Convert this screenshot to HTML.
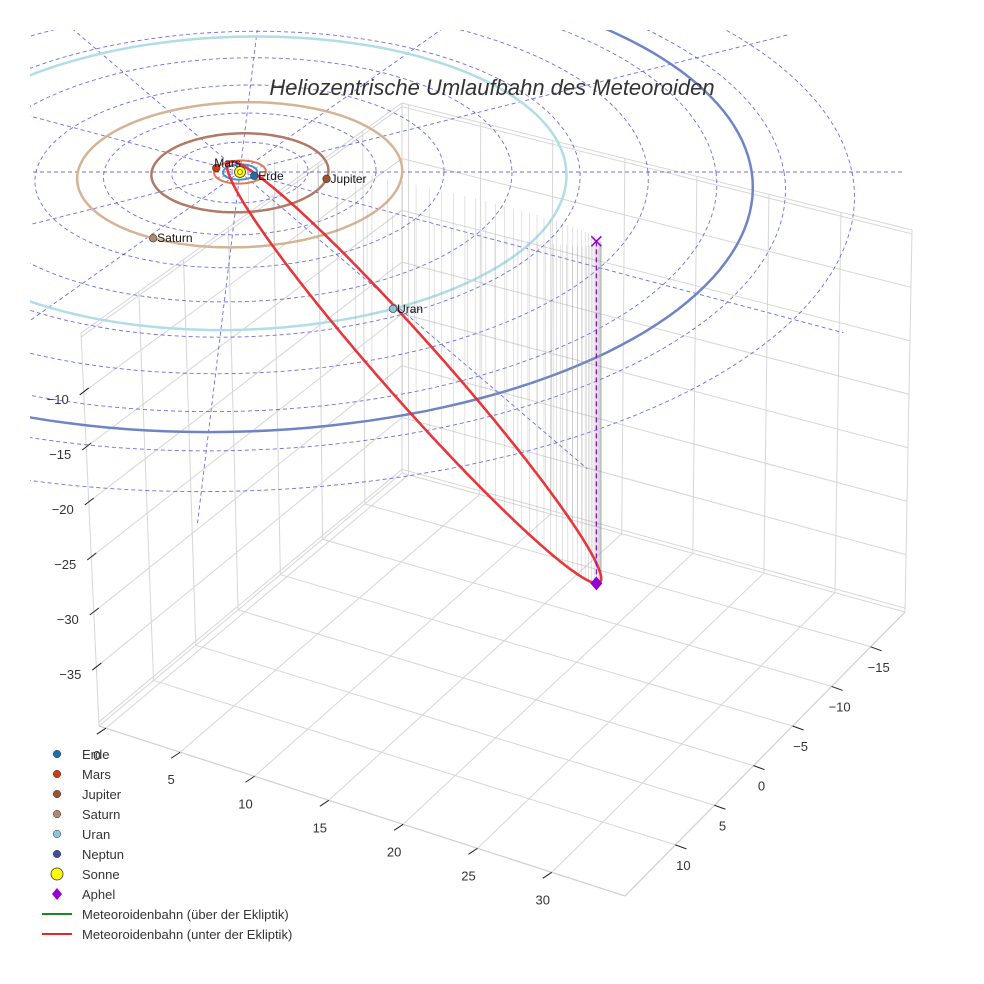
<!DOCTYPE html>
<html><head><meta charset="utf-8">
<style>
html,body{margin:0;padding:0;background:#fff;}
svg{display:block;font-family:"Liberation Sans",sans-serif;}
</style></head>
<body>
<svg id="chart" width="984" height="984" viewBox="0 0 984 984" xmlns="http://www.w3.org/2000/svg">
<defs><clipPath id="clip"><rect x="30" y="30" width="954" height="954"/></clipPath></defs>
<g id="panes"></g>
<g id="ecl" clip-path="url(#clip)"></g>
<text x="492" y="95" text-anchor="middle" font-size="22" font-style="italic" fill="#333">Heliozentrische Umlaufbahn des Meteoroiden</text>
<g id="legend"></g>
</svg>
<script>
// ---- data ----
const planetNames = ['Erde','Mars','Jupiter','Saturn','Uran','Neptun'];
const orbitRadii = [1.0, 1.52, 5.2, 9.54, 19.2, 30.1];
const planetAngles = [30, 200, 10, 118, 61, 250];
const orbitColors = ['#4c90d0','#e07a5a','#b07a66','#d4b494','#b0dde6','#6f84c4'];
const markerColors = ['#1a6fb0','#d03a10','#a0522d','#b08a6a','#8cc4dc','#3a4fa0'];
const gridRings = [4, 8, 12, 16, 20, 24, 28, 32, 36];
const spokeAngles = [0, 30, 60, 90, 120, 150, 180, 210, 240, 270, 300, 330];
const spokeLength = 39;
const aphelionPos = [20.7, 8.8, -30];
const perihelionDist = 1.0;
const minorVec = [2.35, 3.3, 2.5];
const xTicks = [0, 5, 10, 15, 20, 25, 30];
const yTicks = [-15, -10, -5, 0, 5, 10];
const zTicks = [-35, -30, -25, -20, -15, -10];
const legendLabels = ['Erde','Mars','Jupiter','Saturn','Uran','Neptun','Sonne','Aphel',
  'Meteoroidenbahn (über der Ekliptik)','Meteoroidenbahn (unter der Ekliptik)'];

const NS = 'http://www.w3.org/2000/svg';
function mk(parent, tag, attrs, text){
  const e = document.createElementNS(NS, tag);
  for (const k in attrs) e.setAttribute(k, attrs[k]);
  if (text !== undefined) e.textContent = text;
  parent.appendChild(e); return e;
}
// ---- projection of ecliptic coordinates (AU) with mild perspective ----
const VX = 470;
function proj(x, y, z){
  const g = 1 / (1 - 0.004 * y);
  return [VX + (240 - VX + 17 * x) * g, 172 + 7.6 * y * g - 11 * z * g];
}
// ---- box axes ----
const A=[99,726], B=[625,896], C=[905,612], D=[402,473], A2=[81,333], D2=[402,103], C2=[912,230];
function lerp(p,q,t){return [p[0]+(q[0]-p[0])*t, p[1]+(q[1]-p[1])*t];}
function xFrac(v){return 0.013 + v*0.02826;}
function yFracB(v){return 0.18 + (10 - v)*0.0279;}
function zFracTop(v){return 0.15 + (-10 - v)*0.028;}

const panes = document.getElementById('panes');
function gl(p,q,name){
  const l = mk(panes,'line',{x1:p[0],y1:p[1],x2:q[0],y2:q[1],stroke:'#d6d6d6','stroke-width':1});
  
  
}
[[A,A2],[A2,D2],[D2,C2],[C2,C],[D,D2],[A,D],[D,C]].forEach(s=>gl(s[0],s[1],'pane-edge'));
const zgrid = [-40,-35,-30,-25,-20,-15,-10,-5];
zgrid.forEach(z=>{const f=zFracTop(z); if(f<0||f>1) return;
  gl(lerp(A2,A,f), lerp(D2,D,f), 'left-pane-gridline');
  gl(lerp(D2,D,f), lerp(C2,C,f), 'right-pane-gridline');});
yTicks.forEach(y=>{const f=yFracB(y);
  gl(lerp(A,D,f), lerp(A2,D2,f), 'left-pane-gridline');
  gl(lerp(B,C,f), lerp(A,D,f), 'floor-gridline');});
xTicks.forEach(x=>{const f=xFrac(x);
  gl(lerp(D,C,f), lerp(D2,C2,f), 'right-pane-gridline');
  gl(lerp(A,B,f), lerp(D,C,f), 'floor-gridline');});
[[A,B],[B,C]].forEach(s=>{const l=mk(panes,'line',{x1:s[0][0],y1:s[0][1],x2:s[1][0],y2:s[1][1],stroke:'#cfcfcf','stroke-width':1.2});
   });
xTicks.forEach(x=>{const p=lerp(A,B,xFrac(x));
  const t=mk(panes,'line',{x1:p[0],y1:p[1],x2:p[0]-9,y2:p[1]+6,stroke:'#222','stroke-width':1});
   
  const l=mk(panes,'text',{x:p[0]-9,y:p[1]+32,'text-anchor':'middle','font-size':13,fill:'#333'},String(x));
   });
yTicks.forEach(y=>{const p=lerp(B,C,yFracB(y));
  const t=mk(panes,'line',{x1:p[0],y1:p[1],x2:p[0]+11,y2:p[1]+4,stroke:'#222','stroke-width':1});
   
  const l=mk(panes,'text',{x:p[0]+8,y:p[1]+25,'text-anchor':'middle','font-size':13,fill:'#333'},y<0?'\u2212'+(-y):String(y));
   });
zTicks.forEach(z=>{const p=lerp(A2,A,zFracTop(z));
  const t=mk(panes,'line',{x1:p[0]+5,y1:p[1]-4,x2:p[0]-4,y2:p[1]+3,stroke:'#222','stroke-width':1});
   
  const l=mk(panes,'text',{x:p[0]-26,y:p[1]+12,'text-anchor':'middle','font-size':13,fill:'#333'},'\u2212'+(-z));
   });

// ---- ecliptic layer ----
const ecl = document.getElementById('ecl');
function circlePts(r){const pts=[];for(let i=0;i<=180;i++){const a=i/180*2*Math.PI;pts.push(proj(r*Math.cos(a),r*Math.sin(a),0));}return pts;}
function ptsStr(p){return p.map(q=>q[0].toFixed(1)+','+q[1].toFixed(1)).join(' ');}
gridRings.forEach(r=>{const e=mk(ecl,'polyline',{points:ptsStr(circlePts(r)),fill:'none',stroke:'#4848e0','stroke-width':0.9,'stroke-dasharray':'4 3',opacity:0.8});
   });
spokeAngles.forEach(a=>{const r=a*Math.PI/180;const p=proj(0,0,0),q=proj(spokeLength*Math.cos(r),spokeLength*Math.sin(r),0);
  const e=mk(ecl,'line',{x1:p[0],y1:p[1],x2:q[0],y2:q[1],stroke:'#4848e0','stroke-width':0.9,'stroke-dasharray':'4 3',opacity:0.8});
   });
orbitRadii.forEach((r,i)=>{const e=mk(ecl,'polyline',{points:ptsStr(circlePts(r)),fill:'none',stroke:orbitColors[i],'stroke-width':i<2?2:2.5});
   });

const Alen=Math.hypot(...aphelionPos);
const P=aphelionPos.map(v=>-perihelionDist*v/Alen);
const Cc=aphelionPos.map((v,i)=>(v+P[i])/2);
const U=aphelionPos.map((v,i)=>(v-P[i])/2);
function orbitPt(E){return [0,1,2].map(i=>Cc[i]+U[i]*Math.cos(E)+minorVec[i]*Math.sin(E));}
const ecc=(Alen-perihelionDist)/(Alen+perihelionDist);
for(let k=0;k<70;k++){
  const M=k/70*2*Math.PI+Math.PI; let E=M;
  for(let it=0;it<30;it++) E=E-(E-ecc*Math.sin(E)-M)/(1-ecc*Math.cos(E));
  const q=orbitPt(E+Math.PI);
  const p1=proj(q[0],q[1],0),p2=proj(q[0],q[1],q[2]);
  const e=mk(ecl,'line',{x1:p1[0],y1:p1[1]-4,x2:p2[0],y2:p2[1],stroke:'#999','stroke-width':0.7,opacity:0.4});
   
}
const mo=[];for(let i=0;i<=360;i++){const q=orbitPt(i/360*2*Math.PI);mo.push(proj(q[0],q[1],q[2]));}
const mline=mk(ecl,'polyline',{points:ptsStr(mo),fill:'none',stroke:'#e5262a','stroke-width':2.6,opacity:0.92});
 
const ap0=proj(aphelionPos[0],aphelionPos[1],0), ap=proj(...aphelionPos);
const dl=mk(ecl,'line',{x1:ap0[0],y1:ap0[1],x2:ap[0],y2:ap[1],stroke:'#9400d3','stroke-width':1.2,'stroke-dasharray':'5 3'});
 
const xm=mk(ecl,'path',{d:`M${ap0[0]-5},${ap0[1]-5}L${ap0[0]+5},${ap0[1]+5}M${ap0[0]-5},${ap0[1]+5}L${ap0[0]+5},${ap0[1]-5}`,stroke:'#9400d3','stroke-width':1.5});
 
const dia=mk(ecl,'path',{d:`M${ap[0]},${ap[1]-7}L${ap[0]+6},${ap[1]}L${ap[0]},${ap[1]+7}L${ap[0]-6},${ap[1]}Z`,fill:'#9400d3'});
 
orbitRadii.forEach((r,i)=>{const a=planetAngles[i]*Math.PI/180;const p=proj(r*Math.cos(a),r*Math.sin(a),0);
  const c=mk(ecl,'circle',{cx:p[0],cy:p[1],r:3.8,fill:markerColors[i],stroke:'#333','stroke-width':0.6});
   
  const t=mk(ecl,'text',{x:p[0]+(i===1?-2:4),y:p[1]+(i===1?-1:4),'font-size':12,fill:'#111'},planetNames[i]);
   });
const s0=proj(0,0,0);
const sun=mk(ecl,'circle',{cx:s0[0],cy:s0[1],r:5.5,fill:'#ffff00',stroke:'#333','stroke-width':0.8});
 
mk(ecl,'circle',{cx:s0[0],cy:s0[1],r:2.5,fill:'none',stroke:'#333','stroke-width':0.6});

// ---- legend ----
const lg=document.getElementById('legend');
legendLabels.forEach((lab,i)=>{const y=754+i*20;
  let m;
  if(i<6){m=mk(lg,'circle',{cx:57,cy:y,r:3.8,fill:markerColors[i],stroke:'#333','stroke-width':0.5});}
  else if(i===6){m=mk(lg,'circle',{cx:57,cy:y,r:6,fill:'#ffff00',stroke:'#333','stroke-width':0.8});}
  else if(i===7){m=mk(lg,'path',{d:`M57,${y-6}L62,${y}L57,${y+6}L52,${y}Z`,fill:'#9400d3'});}
  else {m=mk(lg,'line',{x1:42,y1:y,x2:72,y2:y,stroke:i===8?'#1a8a1a':'#e5262a','stroke-width':2});}
  
  
  const t=mk(lg,'text',{x:82,y:y+5,'font-size':13,fill:'#333'},lab);
  
  
});
</script>
</body></html>
